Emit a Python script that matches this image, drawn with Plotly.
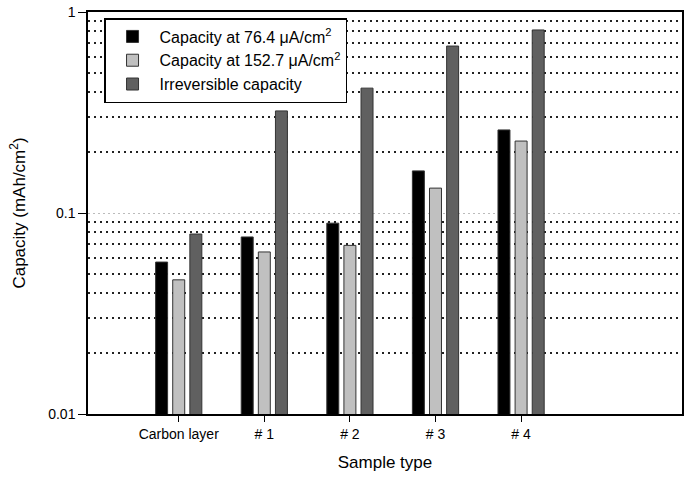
import plotly.graph_objects as go

categories = ["Carbon layer", "# 1", "# 2", "# 3", "# 4"]
cap_76 = [0.057, 0.076, 0.089, 0.162, 0.259]
cap_152 = [0.0465, 0.064, 0.069, 0.133, 0.228]
irrev = [0.0786, 0.322, 0.418, 0.677, 0.814]
series_names = ["Capacity at 76.4 \u03bcA/cm<sup>2</sup>",
                "Capacity at 152.7 \u03bcA/cm<sup>2</sup>",
                "Irreversible capacity"]
colors = ["#000000", "#c0c0c0", "#606060"]
minor_vals = [0.02, 0.03, 0.04, 0.05, 0.06, 0.07, 0.08, 0.09,
              0.2, 0.3, 0.4, 0.5, 0.6, 0.7, 0.8, 0.9]

xpos = list(range(len(categories)))

fig = go.Figure()
for name, vals, col in zip(series_names, [cap_76, cap_152, irrev], colors):
    fig.add_trace(go.Bar(x=xpos, y=vals, name=name, marker_color=col,
                         marker_line=dict(color="#333333", width=1)))

font = "Liberation Sans, Arial, sans-serif"
fig.update_layout(
    width=686, height=483,
    margin=dict(l=88, r=2, t=12, b=69),
    paper_bgcolor="white", plot_bgcolor="white",
    barmode="group", bargap=0.4, bargroupgap=0.3,
    font=dict(family=font, size=14, color="black"),
    showlegend=True,
    legend=dict(x=0.027, y=0.985, xanchor="left", yanchor="top",
                bordercolor="black", borderwidth=1.5, bgcolor="white",
                font=dict(size=16), tracegroupgap=0, itemwidth=44,
                entrywidth=262, entrywidthmode="pixels"),
    xaxis=dict(range=[-1.06, 5.88], tickvals=xpos, ticktext=categories,
               ticks="outside", ticklen=6, tickcolor="black",
               showline=True, linecolor="black", linewidth=1.5, mirror=True,
               showgrid=False, zeroline=False,
               title=dict(text="Sample type", font=dict(size=17), standoff=16)),
    yaxis=dict(type="log", range=[-2, 0], tickvals=[0.01, 0.1, 1],
               ticktext=["0.01", "0.1", "1"],
               ticks="outside", ticklen=8, tickcolor="black",
               showline=True, linecolor="black", linewidth=1.5, mirror=True,
               showgrid=True, gridcolor="#bbbbbb", griddash="2px,3px", gridwidth=1,
               minor=dict(tickvals=minor_vals, showgrid=True, gridcolor="#222222",
                          griddash="2px,4px", gridwidth=1.5, ticks=""),
               title=dict(text="Capacity (mAh/cm<sup>2</sup>)", font=dict(size=17), standoff=18)),
)
fig.write_html("out.html")
